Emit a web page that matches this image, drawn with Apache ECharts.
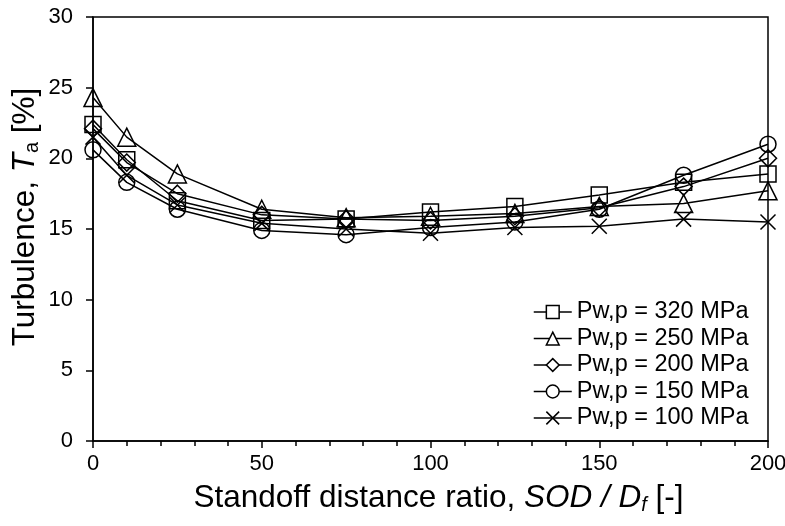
<!DOCTYPE html>
<html>
<head>
<meta charset="utf-8">
<script src="https://cdn.jsdelivr.net/npm/echarts@6/dist/echarts.min.js"></script>
<style>html,body{margin:0;padding:0;background:#fff}#c{width:785px;height:526px}</style>
</head>
<body>
<div id="c"></div>
<script>
var sod = [0, 10, 25, 50, 75, 100, 125, 150, 175, 200];
var seriesNames = ['Pw,p = 320 MPa', 'Pw,p = 250 MPa', 'Pw,p = 200 MPa', 'Pw,p = 150 MPa', 'Pw,p = 100 MPa'];
var p320 = [22.4, 19.9, 17.0, 15.6, 15.7, 16.2, 16.6, 17.4, 18.3, 18.9];
var p250 = [24.3, 21.5, 18.9, 16.4, 15.8, 15.9, 16.1, 16.6, 16.8, 17.7];
var p200 = [22.1, 19.7, 17.5, 16.0, 15.7, 15.6, 15.9, 16.5, 18.0, 20.0];
var p150 = [20.6, 18.3, 16.4, 14.9, 14.6, 15.1, 15.5, 16.4, 18.8, 21.0];
var p100 = [21.5, 18.8, 16.7, 15.4, 15.0, 14.7, 15.1, 15.2, 15.7, 15.5];
var yTicks = [0, 5, 10, 15, 20, 25, 30];
var xTicks = [0, 50, 100, 150, 200];

var font = 'Liberation Sans, Arial, sans-serif';
var symbols = ['rect', 'triangle', 'diamond', 'circle', 'path://M0,0L10,10M10,0L0,10'];
var sizes = [16, 18, 17, 16, 15];
var allData = [p320, p250, p200, p150, p100];

function pairs(vals) { return sod.map(function (x, i) { return [x, vals[i]]; }); }

var series = allData.map(function (vals, k) {
  return {
    name: seriesNames[k],
    type: 'line',
    data: pairs(vals),
    symbol: symbols[k],
    symbolSize: sizes[k],
    showAllSymbol: true,
    lineStyle: { color: '#000', width: 1.5 },
    itemStyle: { color: 'rgba(255,255,255,0)', borderColor: '#000', borderWidth: 1.5 },
    emphasis: { disabled: true },
    animation: false
  };
});

var chart = echarts.init(document.getElementById('c'), null, { renderer: 'canvas' });
chart.setOption({
  backgroundColor: '#fff',
  animation: false,
  textStyle: { fontFamily: font, color: '#000' },
  grid: { left: 93, right: 17, top: 17, bottom: 85, containLabel: false, outerBoundsMode: 'none',
    show: true, borderColor: '#000', borderWidth: 1.5, backgroundColor: 'transparent' },
  legend: {
    orient: 'vertical',
    left: 533,
    top: 300,
    padding: 0,
    itemWidth: 38,
    itemHeight: 16,
    itemGap: 2.5,
    itemStyle: { color: '#fff', borderColor: '#000', borderWidth: 1.5 },
    lineStyle: { color: '#000', width: 1.5 },
    textStyle: { fontFamily: font, fontSize: 23.5, lineHeight: 24, color: '#000' },
    data: seriesNames
  },
  xAxis: {
    type: 'value', min: 0, max: 200, interval: 50,
    axisLine: { lineStyle: { color: '#000', width: 1.5 } },
    axisTick: { show: true, inside: false, length: 7, lineStyle: { color: '#000', width: 1.5 } },
    minorTick: { show: true, splitNumber: 5, length: 5, lineStyle: { color: '#000', width: 1.5 } },
    splitLine: { show: false },
    axisLabel: { fontFamily: font, fontSize: 22, color: '#000', margin: 12, hideOverlap: false,
      formatter: function (v) { return xTicks.indexOf(v) >= 0 ? String(v) : ''; } },
    name: '{n|Standoff distance ratio, }{i|SOD / D}{s|f}{n| [-]}',
    nameLocation: 'middle',
    nameGap: 41,
    nameMoveOverlap: false,
    nameTextStyle: {
      fontFamily: font, color: '#000', padding: [0, 0, 0, 16],
      rich: {
        n: { fontFamily: font, fontSize: 31.5, lineHeight: 33, color: '#000' },
        i: { fontFamily: font, fontSize: 31.5, fontStyle: 'italic', lineHeight: 33, color: '#000' },
        s: { fontFamily: font, fontSize: 20, fontStyle: 'italic', lineHeight: 20, verticalAlign: 'bottom', color: '#000' }
      }
    }
  },
  yAxis: {
    type: 'value', min: 0, max: 30, interval: 5,
    axisLine: { lineStyle: { color: '#000', width: 1.5 } },
    axisTick: { show: true, inside: false, length: 7, lineStyle: { color: '#000', width: 1.5 } },
    splitLine: { show: false },
    axisLabel: { fontFamily: font, fontSize: 22, color: '#000', margin: 20,
      formatter: function (v) { return yTicks.indexOf(v) >= 0 ? String(v) : ''; } },
    name: '{n|Turbulence, }{i|T}{s|a}{n| [%]}',
    nameLocation: 'middle',
    nameGap: 51,
    nameMoveOverlap: false,
    nameTextStyle: {
      fontFamily: font, color: '#000', padding: [0, 0, 0, 24],
      rich: {
        n: { fontFamily: font, fontSize: 31.5, lineHeight: 33, color: '#000' },
        i: { fontFamily: font, fontSize: 31.5, fontStyle: 'italic', lineHeight: 33, color: '#000' },
        s: { fontFamily: font, fontSize: 20, lineHeight: 20, verticalAlign: 'bottom', color: '#000' }
      }
    }
  },
  series: series
});
</script>
</body>
</html>
